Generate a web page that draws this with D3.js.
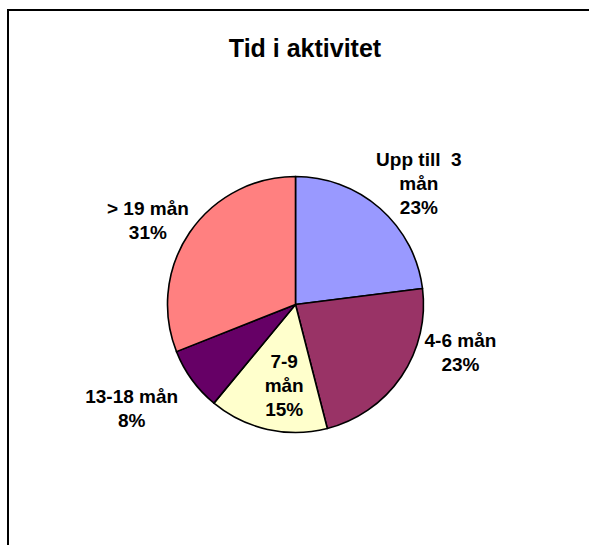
<!DOCTYPE html>
<html>
<head>
<meta charset="utf-8">
<script src="https://cdn.jsdelivr.net/npm/d3@7"></script>
<style>
  body { margin: 0; background: #fff; }
  svg { display: block; }
  text { font-family: "Liberation Sans", Arial, sans-serif; font-weight: bold; fill: #000; }
</style>
</head>
<body>
<svg id="chart"></svg>
<script>
// data
var categories = ["Upp till 3 mån", "4-6 mån", "7-9 mån", "13-18 mån", "> 19 mån"];
var values = [23, 23, 15, 8, 31];
var colors = ["#9999FF", "#993366", "#FFFFCC", "#660066", "#FF8080"];
// label lines as shown in the chart
var labelLines = [
  ["Upp till  3", "mån", "23%"],
  ["4-6 mån", "23%"],
  ["7-9", "mån", "15%"],
  ["13-18 mån", "8%"],
  ["> 19 mån", "31%"]
];

var svgWidth = 589, svgHeight = 545;
var cx = 295.5, cy = 304.5, radius = 128;

var svg = d3.select("#chart")
  .attr("width", svgWidth)
  .attr("height", svgHeight);

// chart frame
svg.append("rect")
  .attr("x", 8)
  .attr("y", 10)
  .attr("width", 620)
  .attr("height", 600)
  .attr("fill", "#fff")
  .attr("stroke", "#000")
  .attr("stroke-width", 2);

svg.append("text")
  .attr("x", 305)
  .attr("y", 57)
  .attr("text-anchor", "middle")
  .style("font-size", "25px")
  .text("Tid i aktivitet");

var pie = d3.pie().sort(null).value(function(d) { return d; });
var arc = d3.arc().innerRadius(0).outerRadius(radius);
var arcs = pie(values);

var g = svg.append("g")
  .attr("transform", "translate(" + cx + "," + cy + ")");

g.selectAll("path")
  .data(arcs)
  .enter().append("path")
  .attr("d", arc)
  .attr("fill", function(d, i) { return colors[i]; })
  .attr("stroke", "#000")
  .attr("stroke-width", 1.6)
  .attr("stroke-linejoin", "round");

// label placement: distance from centre as a factor of radius, nudged per slice
var labelRadius = [1.15, 1.35, 0.62, 1.35, 1.3];
var labelShift = [[26, -10], [22, -49], [6, 4], [-24, 3], [-10, 10]];
var lineHeight = 24;

arcs.forEach(function(d, i) {
  var a = (d.startAngle + d.endAngle) / 2;
  var r = radius * labelRadius[i];
  var x = Math.sin(a) * r + labelShift[i][0];
  var y = -Math.cos(a) * r + labelShift[i][1];
  var lines = labelLines[i];
  var t = g.append("text")
    .attr("text-anchor", "middle")
    .style("font-size", "19px");
  lines.forEach(function(line, j) {
    t.append("tspan")
      .attr("x", x)
      .attr("y", y + (j - (lines.length - 1) / 2) * lineHeight + 6)
      .style("white-space", "pre")
      .text(line);
  });
});
</script>
</body>
</html>
